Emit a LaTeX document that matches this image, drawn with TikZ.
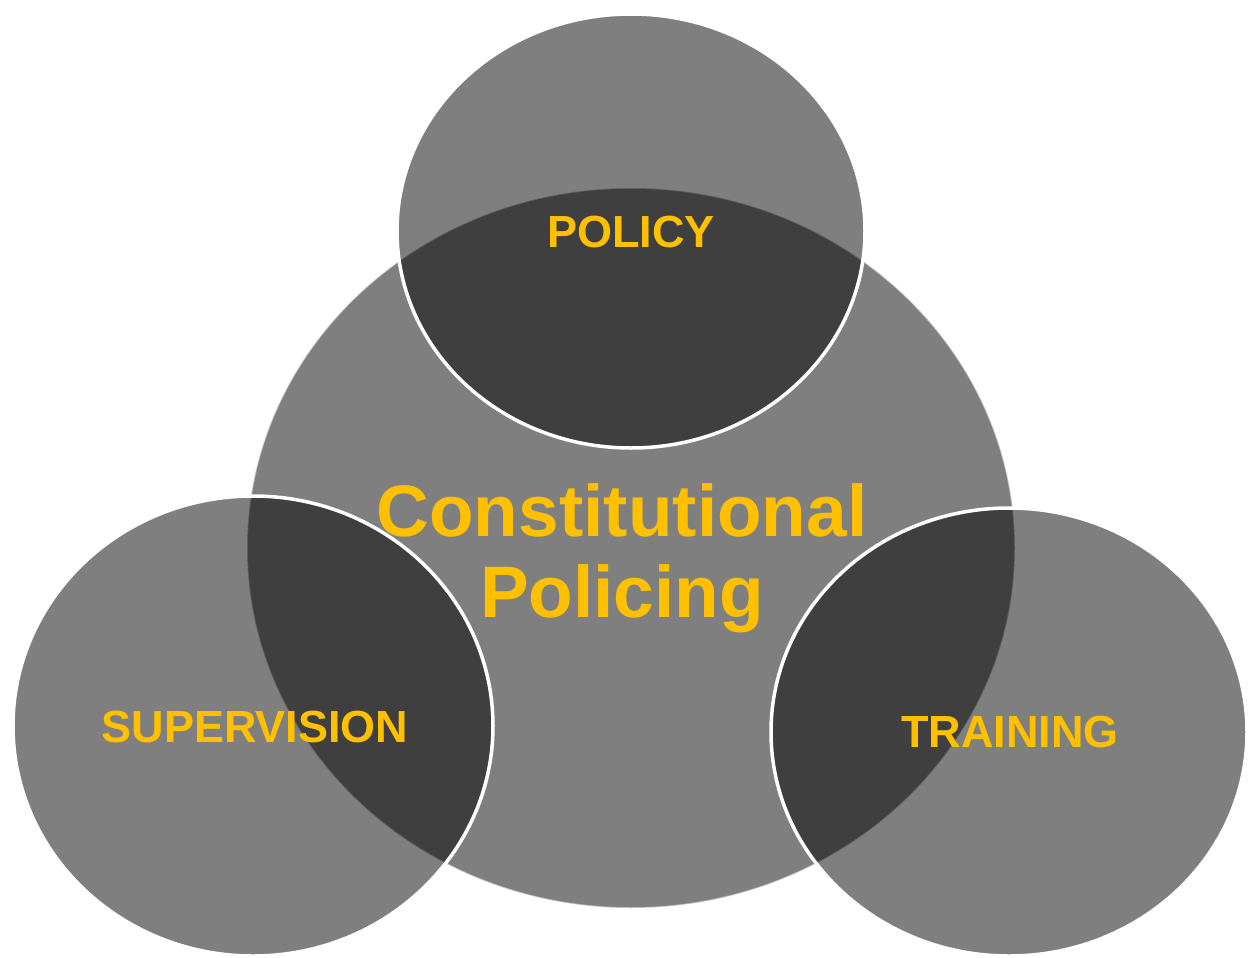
\documentclass[tikz,border=0pt]{standalone}
\usepackage{fontspec}
\setmainfont{Liberation Sans}
\usepackage{tikz}
\usetikzlibrary{shapes.geometric}
\definecolor{gold}{HTML}{FFC000}

\begin{document}
\begin{tikzpicture}[x=1pt,y=-1pt,%
  % common options for the circles:
  ball/.style = {ellipse, fill=black, fill opacity=0.5, inner sep=0},
  bigball/.style = {ball, draw=white, draw opacity=0.5, line width=1.5pt},
  smallball/.style = {ball, draw=white, line width=3.5pt},
  % common options for the texts:
  tag/.style = {text=gold, font=\bfseries\fontsize{45}{54}\selectfont,
              anchor=base, inner sep=0}
	]
  \useasboundingbox (0,0) rectangle (1248,958);

  \node[bigball, minimum width=768pt, minimum height=720pt] (core) at (631,548) {};
  \node[smallball, minimum width=468pt, minimum height=434pt] (policy) at (631,231) {};
  \node[smallball, minimum width=480pt, minimum height=460pt] (supervision) at (253,726) {};
  \node[smallball, minimum width=476pt, minimum height=448pt] (training) at (1009,732) {};

  \node[tag] (policytext) at (631,247) {POLICY};
  \node[tag] (supervisiontext) at (255,742) {SUPERVISION};
  \node[tag] (trainingtext) at (1010,747) {TRAINING};
  \node[tag, font=\bfseries\fontsize{73}{81}\selectfont, align=center]
    (coretext) at (622,617) {Constitutional\\Policing};
\end{tikzpicture}
\end{document}
